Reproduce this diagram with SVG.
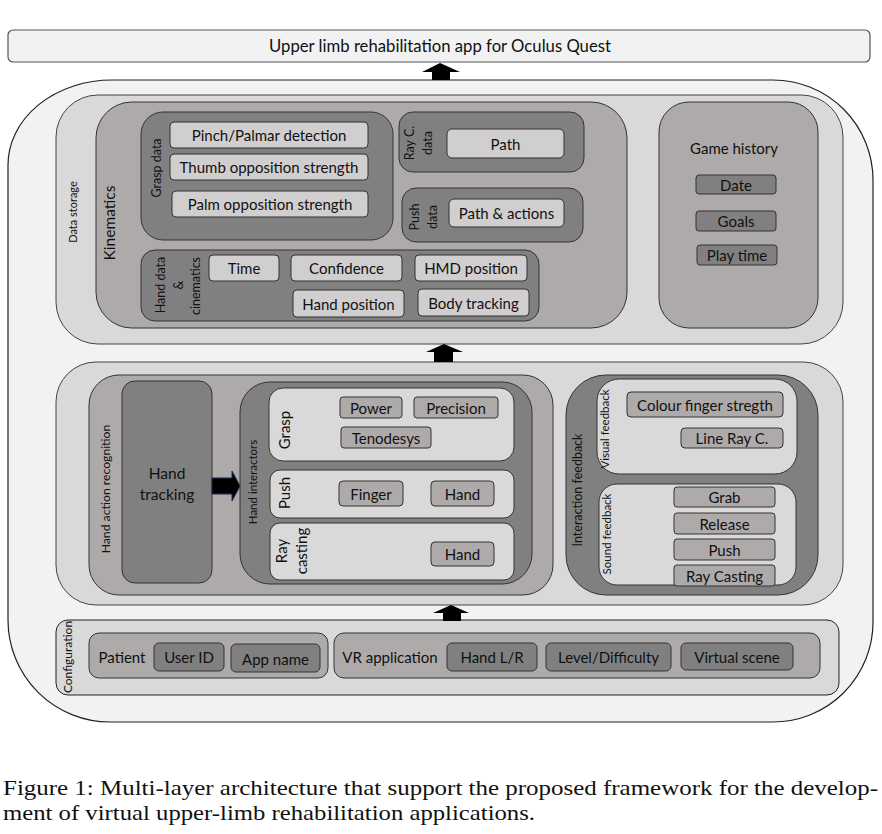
<svg xmlns="http://www.w3.org/2000/svg" width="882" height="834" viewBox="0 0 882 834">
<style>
.t{font-family:Lato,"Open Sans","Liberation Sans",sans-serif;fill:#111;font-size:15px;text-anchor:middle;dominant-baseline:central}
.s{font-size:11.5px}
.m{font-size:12.5px}
.outer{fill:#f2f2f2;stroke:#222;stroke-width:1.2}
.layer{fill:#d9d9d9;stroke:#444;stroke-width:1}
.mid{fill:#aeaaaa;stroke:#333;stroke-width:1}
.dark{fill:#808080;stroke:#333;stroke-width:1}
.light{fill:#d0cece;stroke:#333;stroke-width:1}
.lt{fill:#d9d9d9;stroke:#333;stroke-width:1}
.arr{fill:#000;stroke:none}
.cap{font-family:"Liberation Serif","DejaVu Serif",serif;font-size:22px;fill:#111}
</style>
<rect width="882" height="834" fill="#fff"/>

<g id="app">
<rect x="8" y="30" width="862" height="32" rx="5" class="outer" style="stroke:#555"/>
<text class="t" x="440" y="46" style="font-size:16.7px">Upper limb rehabilitation app for Oculus Quest</text>
</g>

<g id="framework">
<path class="outer" d="M112,80 H773 A100,100 0 0 1 873,180 V622 A100,100 0 0 1 773,722 H110 A102,102 0 0 1 8,620 V165 A104,85 0 0 1 112,80 Z"/>
</g>

<g id="data-storage">
<rect x="56" y="95" width="787" height="249" rx="42" class="layer"/>
<text class="t" style="font-size:11px" transform="translate(72,212) rotate(-90)">Data storage</text>
</g>

<g id="kinematics">
<rect x="96" y="102" width="531" height="226" rx="36" class="mid"/>
<text class="t" style="font-size:15.5px" transform="translate(109,223) rotate(-90)">Kinematics</text>
</g>

<g id="grasp-data">
<rect x="141" y="112" width="252" height="128" rx="22" class="dark"/>
<text class="t m" transform="translate(156,168) rotate(-90)">Grasp data</text>
<rect x="170" y="122" width="198" height="26" rx="4" class="light"/>
<text class="t" x="269" y="135">Pinch/Palmar detection</text>
<rect x="170" y="154" width="198" height="26" rx="4" class="light"/>
<text class="t" x="269" y="167">Thumb opposition strength</text>
<rect x="172" y="191" width="196" height="26" rx="4" class="light"/>
<text class="t" x="270" y="204">Palm opposition strength</text>
</g>

<g id="ray-data">
<rect x="399" y="112" width="185" height="60" rx="14" class="dark"/>
<text class="t m" transform="translate(409,143) rotate(-90)">Ray C.</text>
<text class="t m" transform="translate(427,143) rotate(-90)">data</text>
<rect x="447" y="129" width="117" height="29" rx="5" class="light"/>
<text class="t" x="505.5" y="143.5">Path</text>
</g>

<g id="push-data">
<rect x="402" y="188" width="181" height="54" rx="14" class="dark"/>
<text class="t m" transform="translate(414,217) rotate(-90)">Push</text>
<text class="t m" transform="translate(432,217) rotate(-90)">data</text>
<rect x="449" y="199" width="115" height="28" rx="5" class="light"/>
<text class="t" x="506.5" y="213">Path &amp; actions</text>
</g>

<g id="hand-data">
<rect x="141" y="250" width="398" height="71" rx="14" class="dark"/>
<text class="t m" transform="translate(160,285) rotate(-90)">Hand  data</text>
<text class="t m" transform="translate(178,285) rotate(-90)">&amp;</text>
<text class="t m" transform="translate(195,286) rotate(-90)">cinematics</text>
<rect x="209" y="255" width="70" height="26" rx="4" class="light"/>
<text class="t" x="244" y="268">Time</text>
<rect x="291" y="255" width="111" height="26" rx="4" class="light"/>
<text class="t" x="346.5" y="268">Confidence</text>
<rect x="415" y="255" width="112" height="26" rx="4" class="light"/>
<text class="t" x="471" y="268">HMD position</text>
<rect x="293" y="290" width="111" height="27" rx="4" class="light"/>
<text class="t" x="348.5" y="303.5">Hand position</text>
<rect x="418" y="289" width="111" height="27" rx="4" class="light"/>
<text class="t" x="473.5" y="302.5">Body tracking</text>
</g>

<g id="game-history">
<rect x="659" y="102" width="159" height="226" rx="30" class="mid"/>
<text class="t" x="734" y="148">Game history</text>
<rect x="696" y="175" width="80" height="19" rx="3" class="dark"/>
<text class="t" x="736" y="184.5">Date</text>
<rect x="696" y="211" width="80" height="20" rx="3" class="dark"/>
<text class="t" x="736" y="221">Goals</text>
<rect x="697" y="245" width="80" height="20" rx="3" class="dark"/>
<text class="t" x="737" y="255">Play time</text>
</g>

<g id="interaction-layer">
<rect x="56" y="362" width="787" height="243" rx="40" class="layer"/>
</g>

<g id="hand-action-recognition">
<rect x="89" y="375" width="464" height="220" rx="30" class="mid"/>
<text class="t" style="font-size:12.2px" transform="translate(105,489) rotate(-90)">Hand  action recognition</text>
</g>

<g id="hand-tracking">
<rect x="122" y="381" width="90" height="202" rx="13" class="dark"/>
<text class="t" style="font-size:15.5px" x="167" y="473">Hand</text>
<text class="t" style="font-size:15.5px" x="167" y="494">tracking</text>
</g>

<g id="hand-interactors">
<rect x="240" y="382" width="292" height="202" rx="30" class="dark"/>
<text class="t s" transform="translate(252,482) rotate(-90)">Hand interactors</text>
</g>

<g id="grasp">
<rect x="269" y="388" width="245" height="73" rx="14" class="lt"/>
<text class="t" transform="translate(284,430) rotate(-90)">Grasp</text>
<rect x="340" y="397" width="62" height="21" rx="3" class="mid"/>
<text class="t" x="371" y="407.5">Power</text>
<rect x="414" y="397" width="84" height="21" rx="3" class="mid"/>
<text class="t" x="456" y="407.5">Precision</text>
<rect x="341" y="427" width="90" height="21" rx="3" class="mid"/>
<text class="t" x="386" y="437.5">Tenodesys</text>
</g>

<g id="push">
<rect x="270" y="470" width="244" height="48" rx="10" class="lt"/>
<text class="t" transform="translate(284,493) rotate(-90)">Push</text>
<rect x="339" y="481" width="64" height="25" rx="4" class="mid"/>
<text class="t" x="371" y="493.5">Finger</text>
<rect x="431" y="481" width="63" height="25" rx="4" class="mid"/>
<text class="t" x="462.5" y="493.5">Hand</text>
</g>

<g id="ray-casting">
<rect x="270" y="523" width="244" height="57" rx="10" class="lt"/>
<text class="t" transform="translate(281,551) rotate(-90)">Ray</text>
<text class="t" transform="translate(301,551) rotate(-90)">casting</text>
<rect x="431" y="542" width="63" height="24" rx="4" class="mid"/>
<text class="t" x="462.5" y="554">Hand</text>
</g>

<g id="interaction-feedback">
<rect x="566" y="375" width="252" height="220" rx="40" class="dark"/>
<text class="t m" transform="translate(577,490) rotate(-90)">Interaction feedback</text>
</g>

<g id="visual-feedback">
<rect x="597" y="379" width="200" height="95" rx="22" class="lt"/>
<text class="t s" transform="translate(604,429) rotate(-90)">Visual feedback</text>
<rect x="627" y="392" width="156" height="25" rx="4" class="mid"/>
<text class="t" x="705" y="404.5">Colour finger stregth</text>
<rect x="681" y="428" width="102" height="20" rx="4" class="mid"/>
<text class="t" x="732" y="438">Line Ray C.</text>
</g>

<g id="sound-feedback">
<rect x="599" y="484" width="197" height="101" rx="18" class="lt"/>
<text class="t s" transform="translate(606,534) rotate(-90)">Sound feedback</text>
<rect x="674" y="487" width="101" height="20" rx="3" class="mid"/>
<text class="t" x="724.5" y="497">Grab</text>
<rect x="674" y="513" width="101" height="21" rx="3" class="mid"/>
<text class="t" x="724.5" y="523.5">Release</text>
<rect x="674" y="539" width="101" height="21" rx="3" class="mid"/>
<text class="t" x="724.5" y="549.5">Push</text>
<rect x="674" y="565" width="101" height="21" rx="3" class="mid"/>
<text class="t" x="724.5" y="575.5">Ray Casting</text>
</g>

<g id="configuration">
<rect x="56" y="620" width="783" height="75" rx="12" class="layer" style="stroke:#222"/>
<text class="t" style="font-size:12px" transform="translate(67,657) rotate(-90)">Configuration</text>
</g>

<g id="patient">
<rect x="89" y="633" width="239" height="45" rx="10" class="mid"/>
<text class="t" x="122" y="657">Patient</text>
<rect x="154" y="643" width="70" height="28" rx="5" class="dark"/>
<text class="t" x="189" y="657">User ID</text>
<rect x="231" y="644" width="89" height="28" rx="5" class="dark"/>
<text class="t" x="275.5" y="659">App name</text>
</g>

<g id="vr-application">
<rect x="334" y="633" width="486" height="45" rx="10" class="mid"/>
<text class="t" x="390" y="657">VR application</text>
<rect x="447" y="643" width="90" height="28" rx="5" class="dark"/>
<text class="t" x="492" y="657">Hand L/R</text>
<rect x="546" y="643" width="125" height="28" rx="5" class="dark"/>
<text class="t" x="608.5" y="657">Level/Difficulty</text>
<rect x="681" y="643" width="112" height="27" rx="5" class="dark"/>
<text class="t" x="737" y="656.5">Virtual scene</text>
</g>

<g id="connectors">
<polygon class="arr" points="440,63 460,72 450,72 450,80 432,80 432,72 422,72"/>
<polygon class="arr" points="444,344 463,352 453,352 453,362 434,362 434,352 426,352"/>
<polygon class="arr" points="451,605 469,613 461,613 461,621 443,621 443,613 433,613"/>
<polygon points="212,478 232,478 232,471 240,486 232,501 232,494 212,494" fill="#000" stroke="#1f2a55" stroke-width="1"/>
</g>

<g id="caption">
<text class="cap" x="3" y="795" textLength="875" lengthAdjust="spacingAndGlyphs">Figure 1: Multi-layer architecture that support the proposed framework for the develop-</text>
<text class="cap" x="3" y="820" textLength="532" lengthAdjust="spacingAndGlyphs">ment of virtual upper-limb rehabilitation applications.</text>
</g>
</svg>
